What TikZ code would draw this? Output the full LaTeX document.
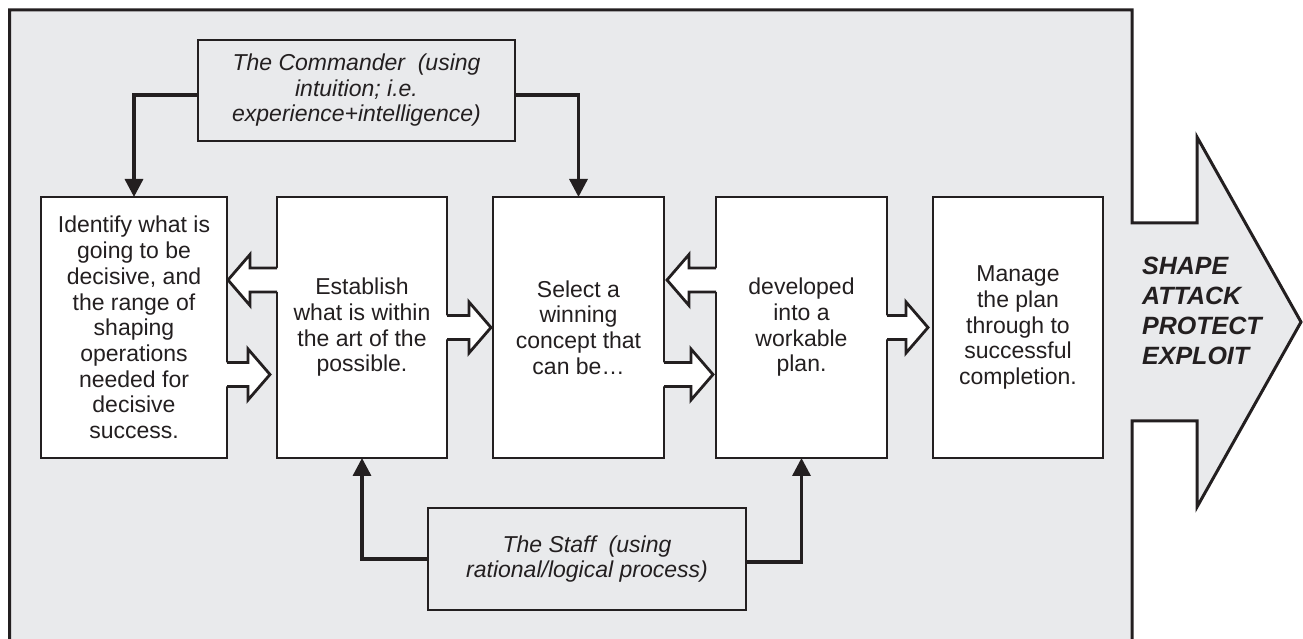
\documentclass[tikz,border=0pt]{standalone}
\usepackage{fontspec}
\setmainfont{Liberation Sans}
\usetikzlibrary{arrows.meta,calc}
\definecolor{bg}{HTML}{E9EAEC}
\definecolor{ink}{HTML}{231F20}
% right-pointing block arrow: #1 source anchor, #2 target anchor, #3 y offset, #4 gap
\newcommand\barrowR[4]{%
  \fill[white] let \p1=(#1), \p2=(#2) in
    ({\x1-2pt},{\y1+#3+12pt}) -- ({\x2-#4-22pt},{\y1+#3+12pt}) -- ({\x2-#4-22pt},{\y1+#3+25.5pt})
    -- ({\x2-#4},{\y1+#3}) -- ({\x2-#4-22pt},{\y1+#3-25.5pt}) -- ({\x2-#4-22pt},{\y1+#3-12pt})
    -- ({\x1-2pt},{\y1+#3-12pt}) -- cycle;
  \draw[barrow] let \p1=(#1), \p2=(#2) in
    (\x1,{\y1+#3+12pt}) -- ({\x2-#4-22pt},{\y1+#3+12pt}) -- ({\x2-#4-22pt},{\y1+#3+25.5pt})
    -- ({\x2-#4},{\y1+#3}) -- ({\x2-#4-22pt},{\y1+#3-25.5pt}) -- ({\x2-#4-22pt},{\y1+#3-12pt})
    -- (\x1,{\y1+#3-12pt});
}
% left-pointing block arrow
\newcommand\barrowL[4]{%
  \fill[white] let \p1=(#1), \p2=(#2) in
    ({\x1+2pt},{\y1+#3+12pt}) -- ({\x2+#4+22pt},{\y1+#3+12pt}) -- ({\x2+#4+22pt},{\y1+#3+25.5pt})
    -- ({\x2+#4},{\y1+#3}) -- ({\x2+#4+22pt},{\y1+#3-25.5pt}) -- ({\x2+#4+22pt},{\y1+#3-12pt})
    -- ({\x1+2pt},{\y1+#3-12pt}) -- cycle;
  \draw[barrow] let \p1=(#1), \p2=(#2) in
    (\x1,{\y1+#3+12pt}) -- ({\x2+#4+22pt},{\y1+#3+12pt}) -- ({\x2+#4+22pt},{\y1+#3+25.5pt})
    -- ({\x2+#4},{\y1+#3}) -- ({\x2+#4+22pt},{\y1+#3-25.5pt}) -- ({\x2+#4+22pt},{\y1+#3-12pt})
    -- (\x1,{\y1+#3-12pt});
}
\begin{document}
\begin{tikzpicture}[x=1pt,y=1pt,
  box/.style={draw=ink, line width=2.8pt, fill=white, inner sep=0pt, outer sep=0pt,
    align=center, text=ink, minimum height=261pt, font=\fontsize{23}{25.7}\selectfont},
  ibox/.style={draw=ink, line width=2.8pt, fill=bg, inner sep=0pt, outer sep=0pt,
    align=center, text=ink, font=\fontsize{23}{25.5}\selectfont\itshape},
  conn/.style={draw=ink, line width=3.4pt, -{Triangle[width=18pt,length=18pt]}},
  barrow/.style={draw=ink, line width=2.8pt, line join=miter},
]
\useasboundingbox (0,0) rectangle (1303,639);
% background panel merged with the large arrow
\filldraw[fill=bg, draw=ink, line width=3pt, line join=miter]
  (9.5,-10) -- (9.5,629) -- (1132,629) -- (1132,416) -- (1197,416) -- (1197,502)
  -- (1301,317) -- (1197,132) -- (1197,218) -- (1132,218) -- (1132,-10);

\node[font=\fontsize{25}{30}\selectfont\bfseries\itshape, text=ink, align=left,
  anchor=north west, inner sep=0pt] (goals) at (1142,382)
  {SHAPE\\ATTACK\\PROTECT\\EXPLOIT};

% command and staff boxes
\node[ibox, minimum width=317pt, minimum height=101pt] (cmd) at (356.5,548.5)
  {The Commander~~(using\\intuition; i.e.\\experience+intelligence)};
\node[ibox, minimum width=318pt, minimum height=102pt] (staff) at (587,80)
  {The Staff~~(using\\rational/logical process)};

% process boxes
\node[box, minimum width=186pt] (b1) at (134,311.5)
  {Identify what is\\going to be\\decisive, and\\the range of\\shaping\\operations\\needed for\\decisive\\success.};
\node[box, minimum width=170pt] (b2) at (362,311.5)
  {Establish\\what is within\\the art of the\\possible.};
\node[box, minimum width=171pt] (b3) at (578.5,311.5)
  {Select a\\winning\\concept that\\can be…};
\node[box, minimum width=171pt] (b4) at (801.5,311.5)
  {developed\\into a\\workable\\plan.};
\node[box, minimum width=170pt] (b5) at (1018,311.5)
  {Manage\\the plan\\through to\\successful\\completion.};

% block arrows
\barrowL{b2.west}{b1.east}{47.5pt}{1pt}
\barrowR{b1.east}{b2.west}{-47pt}{7pt}
\barrowR{b2.east}{b3.west}{0pt}{2pt}
\barrowL{b4.west}{b3.east}{47.5pt}{3pt}
\barrowR{b3.east}{b4.west}{-47pt}{3pt}
\barrowR{b4.east}{b5.west}{0pt}{5pt}

% connectors
\draw[conn] ([yshift=-4.5pt]cmd.west) -| (b1.north);
\draw[conn] ([yshift=-4.5pt]cmd.east) -| (b3.north);
\draw[conn] (staff.west) -| (b2.south);
\draw[conn] ([yshift=-3pt]staff.east) -| (b4.south);
\end{tikzpicture}
\end{document}
